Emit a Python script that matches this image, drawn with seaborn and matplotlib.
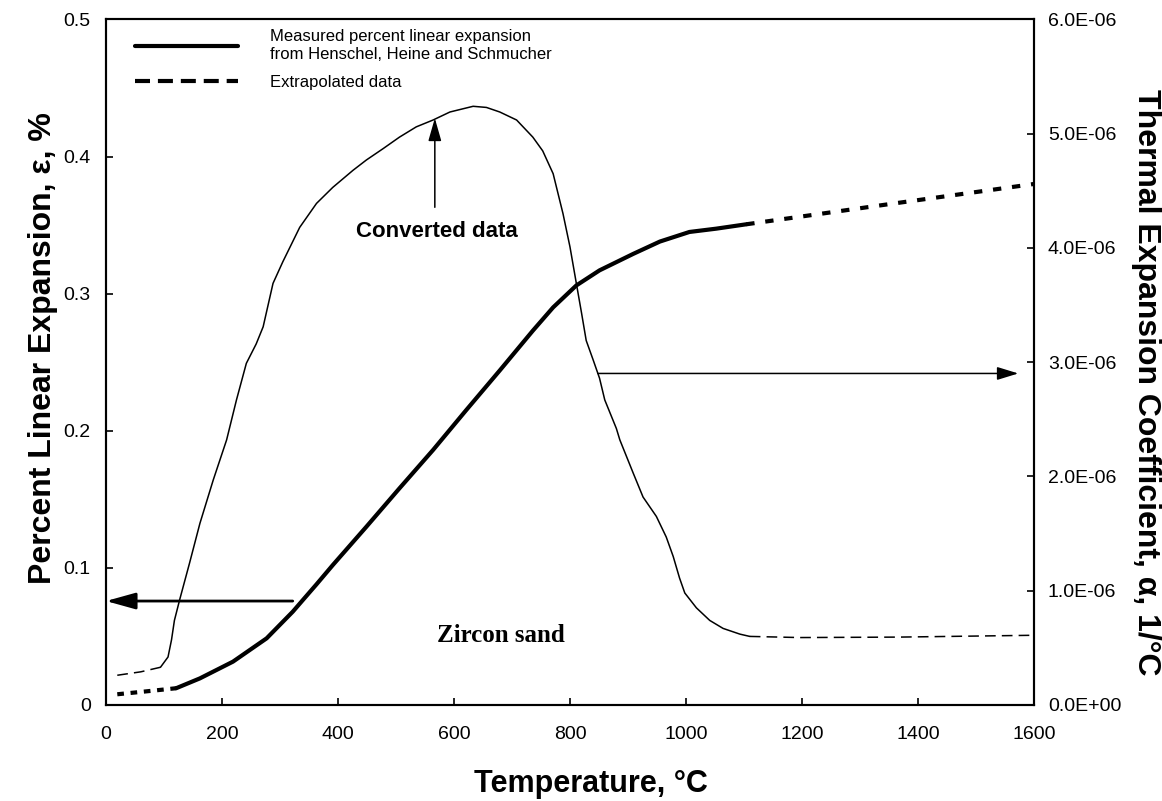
import matplotlib
matplotlib.use("Agg")
import matplotlib.pyplot as plt
import seaborn as sns
from matplotlib.lines import Line2D

# ---------------- data ----------------
# Percent linear expansion (left axis, %)
meas_T = [121, 162, 219, 277, 322, 340, 363, 391, 449, 506, 564, 621, 679, 736, 771, 811, 851,
          909, 955, 1006, 1052, 1104]
meas_eps = [0.0122, 0.0194, 0.0316, 0.0486, 0.068, 0.0768, 0.088, 0.102, 0.130, 0.158, 0.186,
            0.215, 0.244, 0.273, 0.290, 0.306, 0.317, 0.329, 0.338, 0.345, 0.3474, 0.3506]
extra_lo_T = [19.5, 60, 121]
extra_lo_eps = [0.0078, 0.0095, 0.0122]
extra_hi_T = [1104, 1357, 1600]
extra_hi_eps = [0.3506, 0.3657, 0.380]

# Thermal expansion coefficient (right axis, 1/degC)
conv_T = [94, 107, 113, 118, 127, 144, 162, 185, 208, 225, 242, 259, 271, 288, 305, 334, 363,
          391, 426, 449, 478, 506, 535, 564, 593, 633, 656, 679, 708, 736, 753, 771, 788, 800,
          811, 820, 828, 840, 851, 860, 880, 886, 909, 926, 949, 966, 978, 989, 998, 1018, 1041,
          1064, 1093, 1110]
conv_alpha = [0.33e-6, 0.42e-6, 0.57e-6, 0.74e-6, 0.92e-6, 1.24e-6, 1.59e-6, 1.97e-6, 2.32e-6,
              2.67e-6, 2.99e-6, 3.16e-6, 3.31e-6, 3.69e-6, 3.88e-6, 4.18e-6, 4.39e-6, 4.53e-6,
              4.68e-6, 4.77e-6, 4.87e-6, 4.97e-6, 5.06e-6, 5.12e-6, 5.19e-6, 5.24e-6, 5.23e-6,
              5.19e-6, 5.12e-6, 4.97e-6, 4.85e-6, 4.65e-6, 4.30e-6, 4.01e-6, 3.69e-6, 3.43e-6,
              3.19e-6, 3.02e-6, 2.86e-6, 2.67e-6, 2.42e-6, 2.32e-6, 2.03e-6, 1.82e-6, 1.65e-6,
              1.47e-6, 1.30e-6, 1.11e-6, 0.98e-6, 0.85e-6, 0.74e-6, 0.67e-6, 0.62e-6, 0.60e-6]
conv_lo_T = [19.5, 60, 94]
conv_lo_alpha = [0.26e-6, 0.29e-6, 0.33e-6]
conv_hi_T = [1110, 1196, 1368, 1600]
conv_hi_alpha = [0.60e-6, 0.59e-6, 0.594e-6, 0.61e-6]

x_ticks = [0, 200, 400, 600, 800, 1000, 1200, 1400, 1600]
left_ticks = [0, 0.1, 0.2, 0.3, 0.4, 0.5]
left_tick_labels = ["0", "0.1", "0.2", "0.3", "0.4", "0.5"]
right_ticks = [0, 1e-6, 2e-6, 3e-6, 4e-6, 5e-6, 6e-6]

# ---------------- style ----------------
sns.set_style("white")
plt.rcParams["font.family"] = ["Liberation Sans", "DejaVu Sans"]
for k in ["text.color", "axes.labelcolor", "xtick.color", "ytick.color", "axes.edgecolor"]:
    plt.rcParams[k] = "black"

fig = plt.figure(figsize=(11.62, 8.01), dpi=100)
ax = fig.add_axes([0.0912, 0.1199, 0.7986, 0.8558])
ax2 = ax.twinx()

# thick curve: measured expansion
sns.lineplot(x=meas_T, y=meas_eps, ax=ax, color="black", lw=3.0, estimator=None)
sns.lineplot(x=extra_lo_T, y=extra_lo_eps, ax=ax, color="black", lw=3.0, estimator=None,
             linestyle=(0, (1.6, 1.6)))
sns.lineplot(x=extra_hi_T, y=extra_hi_eps, ax=ax, color="black", lw=3.0, estimator=None,
             linestyle=(0, (2.0, 2.6)))

# thin curve: converted alpha
sns.lineplot(x=conv_T, y=conv_alpha, ax=ax2, color="black", lw=1.1, estimator=None)
sns.lineplot(x=conv_lo_T, y=conv_lo_alpha, ax=ax2, color="black", lw=1.1, estimator=None,
             linestyle=(0, (7, 4)))
sns.lineplot(x=conv_hi_T, y=conv_hi_alpha, ax=ax2, color="black", lw=1.1, estimator=None,
             linestyle=(0, (7, 4)))

# axes limits / ticks
ax.set_xlim(0, 1600)
ax.set_ylim(0, 0.5)
ax2.set_ylim(0, 6e-6)
ax.set_xticks(x_ticks)
ax.set_xticklabels([str(t) for t in x_ticks])
ax.set_yticks(left_ticks)
ax.set_yticklabels(left_tick_labels)
ax2.set_yticks(right_ticks)
ax2.set_yticklabels(["%.1E" % v for v in right_ticks])

for a in (ax, ax2):
    for s in a.spines.values():
        s.set_linewidth(1.5)
        s.set_color("black")

ax.tick_params(axis="x", direction="in", length=5, width=1.2, pad=15, labelsize=14,
               top=False, bottom=True, colors="black")
ax.tick_params(axis="y", direction="in", length=5, width=1.2, pad=11, labelsize=14,
               left=True, right=False, colors="black")
ax2.tick_params(axis="y", direction="in", length=5, width=1.2, pad=10, labelsize=14,
                right=True, left=False, colors="black")

# axis labels
ax.set_xlabel("Temperature, °C", fontsize=22, fontweight="bold", color="black")
ax.xaxis.set_label_coords(0.523, -0.093)
ax.set_ylabel("Percent Linear Expansion, ε, %", fontsize=23, fontweight="bold", color="black")
ax.yaxis.set_label_coords(-0.068, 0.52)
ax.yaxis.label.set_va("center")
ax2.set_ylabel("Thermal Expansion Coefficient, α, 1/°C", fontsize=23, fontweight="bold",
               rotation=270, color="black")
ax2.yaxis.set_label_coords(1.121, 0.471)
ax2.yaxis.label.set_va("center")
ax2.yaxis.label.set_ha("center")

# annotations
ax.annotate("", xy=(0, 0.0758), xytext=(322, 0.0758),
            arrowprops=dict(arrowstyle="-|>,head_length=0.9,head_width=0.25", color="black",
                            lw=2.0, mutation_scale=20, shrinkA=0, shrinkB=0))
ax.annotate("", xy=(1573, 0.2418), xytext=(848, 0.2418),
            arrowprops=dict(arrowstyle="-|>,head_length=0.65,head_width=0.2", color="black",
                            lw=1.1, mutation_scale=20, shrinkA=0, shrinkB=0))
ax.annotate("", xy=(567, 0.428), xytext=(567, 0.363),
            arrowprops=dict(arrowstyle="-|>,head_length=0.7,head_width=0.2", color="black",
                            lw=1.1, mutation_scale=20, shrinkA=0, shrinkB=0))
ax.text(570, 0.345, "Converted data", fontsize=16, fontweight="bold", ha="center", va="center",
        color="black")
ax.text(681, 0.051, "Zircon sand", fontsize=18, fontweight="bold", ha="center", va="center",
        family=["Liberation Serif", "DejaVu Serif"], color="black")

# legend
handles = [Line2D([], [], color="black", lw=3.0),
           Line2D([], [], color="black", lw=3.0, linestyle=(0, (3.6, 1.9)))]
labels = ["Measured percent linear expansion\nfrom Henschel, Heine and Schmucher",
          "Extrapolated data"]
leg = ax.legend(handles, labels, loc="upper left", bbox_to_anchor=(0.0312, 0.986),
                frameon=False, fontsize=12, handlelength=6.2, handletextpad=1.9,
                labelspacing=0.75, borderpad=0, borderaxespad=0, labelcolor="black")
for t in leg.get_texts():
    t.set_linespacing(1.25)

fig.savefig("out.png", dpi=100)
